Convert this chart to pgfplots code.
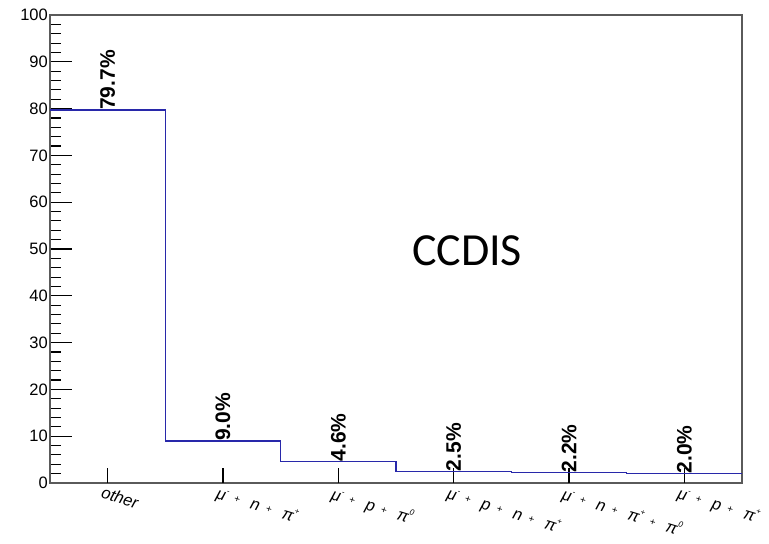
\documentclass[border=0pt]{standalone}
\usepackage{fontspec}
\setmainfont{Liberation Sans}
\newfontfamily\carlito{Carlito}
\usepackage{pgfplots}
\pgfplotsset{compat=1.18}
\definecolor{histblue}{RGB}{40,40,170}
\definecolor{framegray}{RGB}{90,90,90}

% category label font, small plus sign and raised script
\newcommand\xlab[1]{{\fontsize{16.5bp}{18bp}\selectfont\itshape #1}}
\newcommand\pl{\hspace{0.4em}{\fontsize{10bp}{12bp}\selectfont\raisebox{0.2em}{+}}\hspace{0.7em}}
\newcommand\up[1]{\raisebox{0.5em}{\fontsize{8bp}{9bp}\selectfont #1}}

\begin{document}
\begin{tikzpicture}
\useasboundingbox (-50bp,-61bp) rectangle (719bp,483bp);
\begin{axis}[
  at={(0,0)}, anchor=south west,
  scale only axis, width=692bp, height=468bp,
  xmin=0, xmax=6, ymin=0, ymax=100,
  axis line style={framegray, line width=1.6bp},
  /pgf/number format/assume math mode=true,
  ytick={0,10,...,100},
  minor y tick num=4,
  yticklabel={\fontsize{16.5bp}{19bp}\selectfont\pgfmathprintnumber{\tick}},
  xtick={0.5,1.5,2.5,3.5,4.5,5.5},
  xticklabels={\xlab{other},%
    \xlab{μ\up{-}\pl n\pl π\up{+}},%
    \xlab{μ\up{-}\pl p\pl π\up{0}},%
    \xlab{μ\up{-}\pl p\pl n\pl π\up{+}},%
    \xlab{μ\up{-}\pl n\pl π\up{+}\pl π\up{0}},%
    \xlab{μ\up{-}\pl p\pl π\up{+}}},
  tick align=inside,
  xtick pos=bottom, ytick pos=left,
  major tick length=22bp, minor tick length=11bp,
  tick style={black, line width=1.1bp},
  x tick style={draw=none},
  yticklabel style={inner sep=2bp},
  xticklabel style={rotate=-17, anchor=north west, inner sep=0pt,
    xshift=-3bp, yshift=-4bp},
  clip=false,
]
% short marks at the bin centres along the x axis
\addplot[ycomb, black, line width=1.1bp, mark=none]
  coordinates {(0.5,3.2) (1.5,3.2) (2.5,3.2) (3.5,3.2) (4.5,3.2) (5.5,3.2)};
% histogram outline, bin edges at 0..6
\addplot[histblue, line width=1.3bp, const plot, mark=none]
  coordinates {(0,79.7) (1,9.0) (2,4.6) (3,2.5) (4,2.2) (5,2.0) (6,2.0)};
% percentage labels above each bin
\addplot[draw=none, mark=none, point meta=y,
  nodes near coords={\pgfmathprintnumber[fixed,fixed zerofill,precision=1]{\pgfplotspointmeta}\%},
  every node near coord/.append style={rotate=90, anchor=west, inner sep=0pt,
    font=\bfseries\fontsize{21bp}{24bp}\selectfont, text=black}]
  coordinates {(0.5,79.7) (1.5,9.0) (2.5,4.6) (3.5,2.5) (4.5,2.2) (5.5,2.0)};
\node[font=\carlito\fontsize{46bp}{50bp}\selectfont] at (axis cs:3.616,49.6) {CCDIS};
\end{axis}
\end{tikzpicture}
\end{document}
